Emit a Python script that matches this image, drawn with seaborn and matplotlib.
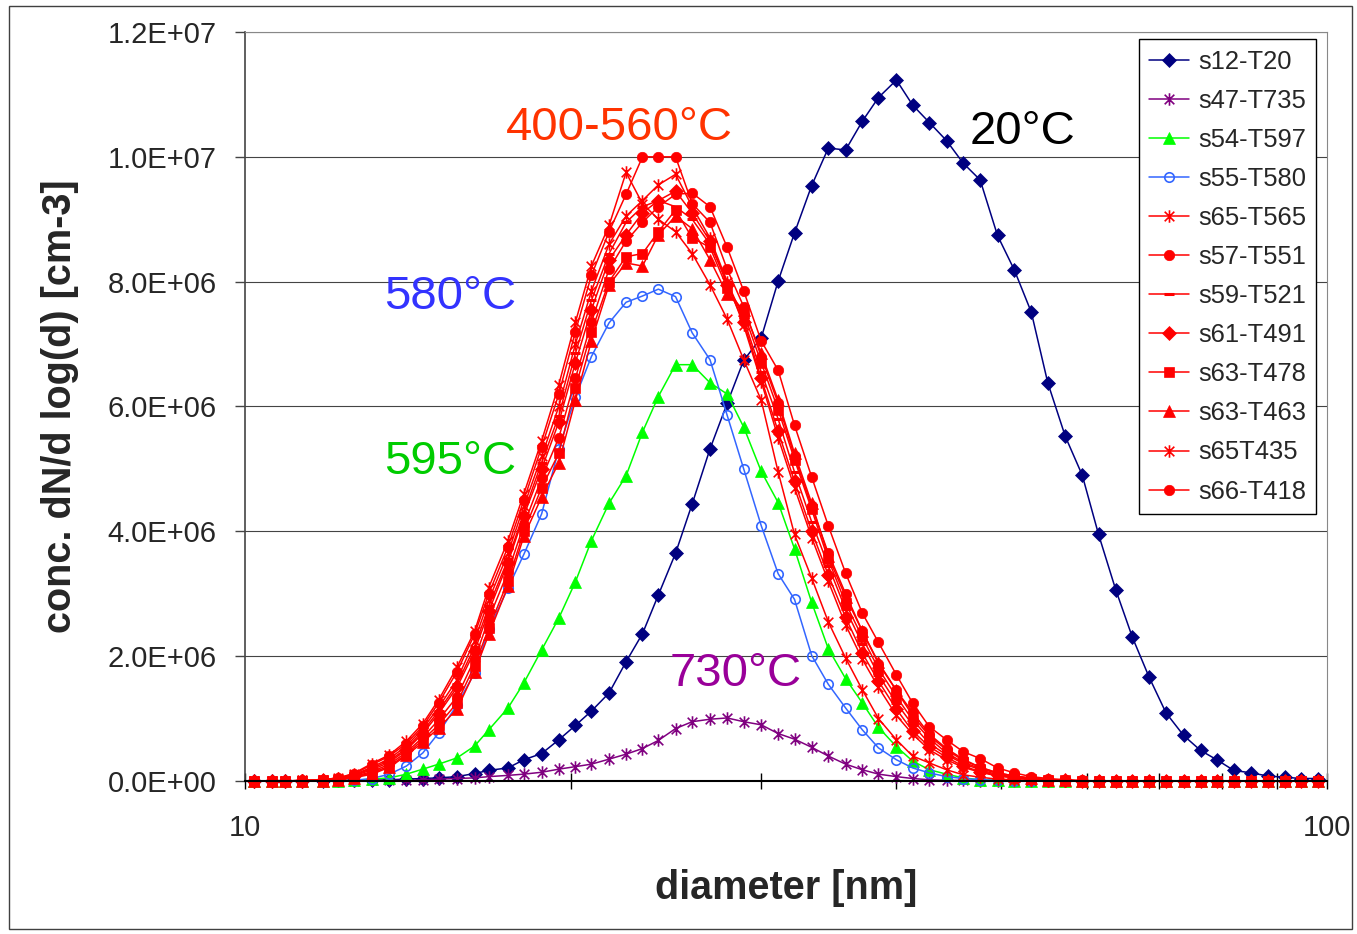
import numpy as np
import pandas as pd
import matplotlib
matplotlib.use('Agg')
import matplotlib.pyplot as plt
import seaborn as sns
from matplotlib.ticker import FuncFormatter, FixedLocator, NullFormatter
from matplotlib.patches import Rectangle
from matplotlib.path import Path

# =========================
# DADOS (valores em 1E+06 cm-3)
# =========================

diametro = [10.2, 10.6, 10.9, 11.3, 11.8, 12.2, 12.6, 13.1, 13.6, 14.1,
            14.6, 15.1, 15.7, 16.3, 16.8, 17.5, 18.1, 18.8, 19.5, 20.2,
            20.9, 21.7, 22.5, 23.3, 24.1, 25.0, 25.9, 26.9, 27.9, 28.9,
            30.0, 31.1, 32.2, 33.4, 34.6, 35.9, 37.2, 38.5, 40.0, 41.4,
            42.9, 44.5, 46.1, 47.8, 49.6, 51.4, 53.3, 55.2, 57.3, 59.4,
            61.5, 63.8, 66.1, 68.5, 71.0, 73.7, 76.4, 79.1, 82.0, 85.1,
            88.2, 91.4, 94.7, 98.2]

s12_T20 = [0, 0, 0, 0, 0, 0.01, 0.01, 0.01, 0.02, 0.03,
           0.04, 0.05, 0.07, 0.12, 0.17, 0.21, 0.34, 0.44, 0.66, 0.89,
           1.12, 1.41, 1.91, 2.36, 2.98, 3.65, 4.44, 5.32, 6.05, 6.74,
           7.10, 8.01, 8.78, 9.54, 10.14, 10.11, 10.57, 10.95, 11.23, 10.83,
           10.55, 10.26, 9.90, 9.63, 8.74, 8.19, 7.51, 6.38, 5.52, 4.90,
           3.95, 3.06, 2.30, 1.66, 1.09, 0.73, 0.49, 0.34, 0.17, 0.13,
           0.08, 0.06, 0.04, 0.04]

s47_T735 = [0, 0, 0, 0, 0, 0, 0, 0.01, 0.01, 0.01,
            0.02, 0.03, 0.04, 0.05, 0.07, 0.09, 0.11, 0.14, 0.19, 0.23,
            0.27, 0.35, 0.43, 0.52, 0.65, 0.84, 0.95, 0.99, 1.01, 0.95,
            0.90, 0.76, 0.67, 0.54, 0.40, 0.27, 0.18, 0.11, 0.07, 0.04,
            0.02, 0.01, 0.01, 0, 0, 0, 0, 0, 0, 0,
            0, 0, 0, 0, 0, 0, 0, 0, 0, 0,
            0, 0, 0, 0]

s54_T597 = [0, 0, 0, 0, 0, 0, 0.01, 0.03, 0.05, 0.11,
            0.19, 0.27, 0.37, 0.56, 0.82, 1.17, 1.57, 2.10, 2.61, 3.19,
            3.85, 4.45, 4.89, 5.59, 6.16, 6.67, 6.67, 6.38, 6.20, 5.67,
            4.96, 4.46, 3.72, 2.86, 2.12, 1.64, 1.25, 0.86, 0.55, 0.32,
            0.18, 0.11, 0.05, 0.02, 0.01, 0, 0, 0, 0, 0,
            0, 0, 0, 0, 0, 0, 0, 0, 0, 0,
            0, 0, 0, 0]

s55_T580 = [0, 0, 0, 0, 0, 0, 0.01, 0.04, 0.11, 0.24,
            0.45, 0.77, 1.22, 1.73, 2.43, 3.09, 3.63, 4.28, 5.32, 6.15,
            6.80, 7.34, 7.67, 7.77, 7.88, 7.76, 7.18, 6.75, 5.86, 5.00,
            4.09, 3.32, 2.91, 2.01, 1.55, 1.17, 0.82, 0.53, 0.34, 0.21,
            0.13, 0.07, 0.04, 0.02, 0.01, 0, 0, 0, 0, 0,
            0, 0, 0, 0, 0, 0, 0, 0, 0, 0,
            0, 0, 0, 0]

s65_T565 = [0, 0, 0, 0.01, 0.02, 0.05, 0.12, 0.28, 0.42, 0.64,
            0.92, 1.30, 1.82, 2.40, 3.10, 3.85, 4.60, 5.45, 6.35, 7.35,
            8.25, 8.90, 9.75, 9.25, 9.00, 8.80, 8.45, 7.95, 7.40, 6.75,
            6.10, 4.95, 3.95, 3.25, 2.55, 1.97, 1.46, 1.00, 0.66, 0.40,
            0.29, 0.18, 0.10, 0.06, 0.03, 0.02, 0.01, 0, 0, 0,
            0, 0, 0, 0, 0, 0, 0, 0, 0, 0,
            0, 0, 0, 0]

s57_T551 = [0, 0, 0, 0.01, 0.02, 0.05, 0.11, 0.26, 0.40, 0.60,
            0.88, 1.25, 1.75, 2.35, 3.00, 3.75, 4.50, 5.35, 6.20, 7.20,
            8.10, 8.80, 9.40, 10.0, 10.0, 10.0, 9.25, 8.95, 8.20, 7.60,
            6.80, 6.05, 5.20, 4.40, 3.65, 3.00, 2.40, 1.88, 1.45, 1.10,
            0.75, 0.52, 0.35, 0.22, 0.13, 0.08, 0.04, 0.02, 0.01, 0,
            0, 0, 0, 0, 0, 0, 0, 0, 0, 0,
            0, 0, 0, 0]

s59_T521 = [0, 0, 0, 0, 0.01, 0.04, 0.09, 0.20, 0.33, 0.52,
            0.80, 1.12, 1.55, 2.15, 2.80, 3.55, 4.30, 5.10, 5.85, 6.85,
            7.70, 8.45, 8.95, 9.20, 9.30, 9.20, 9.00, 8.60, 8.00, 7.40,
            6.55, 5.80, 4.95, 4.15, 3.45, 2.75, 2.20, 1.70, 1.25, 0.90,
            0.60, 0.42, 0.28, 0.18, 0.10, 0.06, 0.03, 0.02, 0.01, 0,
            0, 0, 0, 0, 0, 0, 0, 0, 0, 0,
            0, 0, 0, 0]

s61_T491 = [0, 0, 0, 0, 0.01, 0.03, 0.08, 0.18, 0.30, 0.50,
            0.76, 1.08, 1.50, 2.08, 2.72, 3.50, 4.25, 5.00, 5.75, 6.70,
            7.55, 8.35, 8.75, 9.10, 9.30, 9.45, 9.10, 8.65, 7.95, 7.35,
            6.45, 5.60, 4.80, 4.00, 3.30, 2.62, 2.05, 1.60, 1.15, 0.80,
            0.55, 0.38, 0.24, 0.15, 0.09, 0.05, 0.03, 0.01, 0.01, 0,
            0, 0, 0, 0, 0, 0, 0, 0, 0, 0,
            0, 0, 0, 0]

s63_T478 = [0, 0, 0, 0, 0.01, 0.02, 0.06, 0.13, 0.24, 0.43,
            0.66, 0.90, 1.25, 1.85, 2.45, 3.20, 4.00, 4.70, 5.25, 6.30,
            7.20, 8.00, 8.40, 8.45, 8.80, 9.15, 8.70, 8.55, 7.90, 7.50,
            6.70, 5.95, 5.15, 4.35, 3.55, 2.85, 2.30, 1.80, 1.35, 0.98,
            0.68, 0.45, 0.30, 0.20, 0.12, 0.07, 0.04, 0.02, 0.01, 0,
            0, 0, 0, 0, 0, 0, 0, 0, 0, 0,
            0, 0, 0, 0]

s63_T463 = [0, 0, 0, 0, 0, 0.02, 0.05, 0.11, 0.22, 0.41,
            0.62, 0.85, 1.15, 1.75, 2.35, 3.12, 3.92, 4.55, 5.10, 6.10,
            7.05, 7.95, 8.30, 8.25, 8.75, 9.05, 8.85, 8.35, 7.80, 7.55,
            6.85, 6.10, 5.25, 4.45, 3.60, 2.95, 2.40, 1.90, 1.45, 1.05,
            0.72, 0.50, 0.33, 0.22, 0.13, 0.08, 0.05, 0.02, 0.01, 0,
            0, 0, 0, 0, 0, 0, 0, 0, 0, 0,
            0, 0, 0, 0]

s65T435 = [0, 0, 0, 0.01, 0.02, 0.04, 0.10, 0.22, 0.36, 0.56,
           0.84, 1.18, 1.62, 2.25, 2.90, 3.65, 4.40, 5.20, 6.00, 7.00,
           7.85, 8.60, 9.05, 9.30, 9.55, 9.72, 9.20, 8.70, 8.00, 7.30,
           6.40, 5.50, 4.70, 3.90, 3.20, 2.50, 1.95, 1.50, 1.05, 0.75,
           0.50, 0.34, 0.22, 0.14, 0.08, 0.05, 0.02, 0.01, 0, 0,
           0, 0, 0, 0, 0, 0, 0, 0, 0, 0,
           0, 0, 0, 0]

s66_T418 = [0, 0, 0, 0, 0.01, 0.03, 0.07, 0.15, 0.27, 0.46,
            0.70, 0.98, 1.35, 1.95, 2.60, 3.35, 4.10, 4.85, 5.50, 6.45,
            7.35, 8.20, 8.65, 8.95, 9.20, 9.40, 9.42, 9.20, 8.55, 7.85,
            7.05, 6.58, 5.70, 4.87, 4.09, 3.33, 2.69, 2.22, 1.70, 1.25,
            0.87, 0.66, 0.47, 0.36, 0.21, 0.13, 0.07, 0.04, 0.02, 0.01,
            0, 0, 0, 0, 0, 0, 0, 0, 0, 0,
            0, 0, 0, 0]

nomes = ['s12-T20', 's47-T735', 's54-T597', 's55-T580', 's65-T565', 's57-T551',
         's59-T521', 's61-T491', 's63-T478', 's63-T463', 's65T435', 's66-T418']
series = [s12_T20, s47_T735, s54_T597, s55_T580, s65_T565, s57_T551,
          s59_T521, s61_T491, s63_T478, s63_T463, s65T435, s66_T418]

# =========================
# ESTILO DE CADA SERIE
# =========================

# marcador estrela do Excel: um X com uma barra vertical
asterisco = Path([(-1, -1), (1, 1), (-1, 1), (1, -1), (0, -1.3), (0, 1.3)],
                 [Path.MOVETO, Path.LINETO] * 3)

cores = ['#000080', '#800080', '#00FF00', '#3366FF'] + ['#FF0000'] * 8
marcadores = ['D', asterisco, '^', 'o', asterisco, 'o', '_', 'D', 's', '^', asterisco, 'o']
tamanhos = [7, 9, 8, 6.8, 9, 7.5, 6.5, 7, 7, 8, 9, 7.5]
preenchido = [True, True, True, False, True, True, True, True, True, True, True, True]

# =========================
# FIGURA
# =========================

sns.set_theme(style='white')
plt.rcParams['font.family'] = ['Liberation Sans', 'DejaVu Sans']

fig = plt.figure(figsize=(13.57, 9.34), dpi=100)
ax = fig.add_axes([245 / 1357, 1 - 781 / 934, 1082 / 1357, 749 / 934])

for nome, vals, cor, mk, ms, cheio in zip(nomes, series, cores, marcadores, tamanhos, preenchido):
    y = np.array(vals) * 1e6
    estrela = mk is asterisco
    mew = 1.2 if (estrela or not cheio) else (2.2 if mk == '_' else 0.5)
    sns.lineplot(x=diametro, y=y, ax=ax, color=cor, linewidth=1.1,
                 marker=mk, markersize=ms,
                 markerfacecolor='none' if (estrela or not cheio) else cor,
                 markeredgecolor=cor, markeredgewidth=mew,
                 label=nome, clip_on=False, sort=False)

# eixo x logaritmico
ax.set_xscale('log')
ax.set_xlim(10, 100)
ax.xaxis.set_major_locator(FixedLocator([10, 100]))
ax.xaxis.set_minor_locator(FixedLocator([20, 30, 40, 50, 60, 70, 80, 90]))
ax.xaxis.set_major_formatter(FuncFormatter(lambda v, p: f'{v:g}'))
ax.xaxis.set_minor_formatter(NullFormatter())

# eixo y
ax.set_ylim(0, 1.2e7)
ax.set_yticks(np.arange(0, 1.2e7 + 1, 2e6))
ax.yaxis.set_major_formatter(FuncFormatter(lambda v, p: f'{v:.1E}'))

ax.yaxis.grid(True, color='#444444', linewidth=0.8)
ax.xaxis.grid(False)
ax.set_axisbelow(True)

for lado in ['top', 'right']:
    ax.spines[lado].set_color('#888888')
    ax.spines[lado].set_linewidth(0.8)
ax.spines['left'].set_color('#444444')
ax.spines['left'].set_linewidth(1.2)
ax.spines['bottom'].set_color('black')
ax.spines['bottom'].set_linewidth(1.5)

ax.tick_params(axis='y', which='major', direction='out', length=7.5, width=1,
               color='#444444', labelsize=21, pad=13, left=True)
ax.tick_params(axis='x', which='both', direction='inout', length=11, width=1,
               color='black', labelsize=21, pad=18, bottom=True)

ax.set_xlabel('')
ax.set_ylabel('')
fig.text(786 / 1357, 1 - 888 / 934, 'diameter [nm]', ha='center', va='center',
         fontsize=28.5, fontweight='bold')
fig.text(60 / 1357, 1 - 406 / 934, 'conc. dN/d log(d) [cm-3]', ha='center', va='center',
         rotation=90, fontsize=28.5, fontweight='bold')

# rotulos de temperatura
ax.text(22.2, 10.46e6, '400-560°C', color='#FF3300', fontsize=34, ha='center', va='center')
ax.text(52.3, 10.40e6, '20°C', color='black', fontsize=34, ha='center', va='center')
ax.text(15.47, 7.76e6, '580°C', color='#3333FF', fontsize=34, ha='center', va='center')
ax.text(15.47, 5.11e6, '595°C', color='#00CC00', fontsize=34, ha='center', va='center')
ax.text(28.4, 1.71e6, '730°C', color='#990099', fontsize=34, ha='center', va='center')

# legenda
leg = ax.legend(loc='upper right', bbox_to_anchor=(0.99, 0.99), borderaxespad=0,
                fontsize=18.4, frameon=True, fancybox=False, framealpha=1,
                edgecolor='black', handlelength=1.55, handletextpad=0.35,
                labelspacing=0.59, borderpad=0.4)
leg.get_frame().set_linewidth(1.0)

# borda da figura
fig.patches.append(Rectangle((9 / 1357, 5 / 934), 1343 / 1357, 923 / 934,
                             transform=fig.transFigure, fill=False,
                             edgecolor='#404040', linewidth=1))

plt.savefig('out.png', dpi=100)
